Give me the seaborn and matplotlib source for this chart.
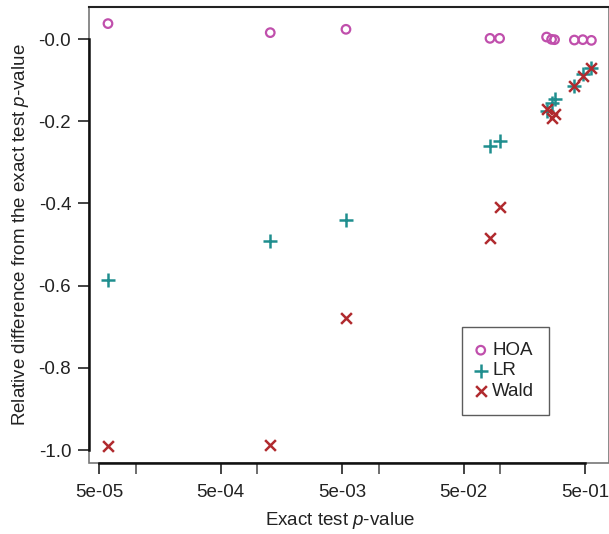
import numpy as np
import pandas as pd
import matplotlib
matplotlib.use('Agg')
import matplotlib.pyplot as plt
import matplotlib.ticker as mticker
import seaborn as sns

sns.set_style('ticks')
plt.rcParams['font.family'] = ['Liberation Sans', 'DejaVu Sans']
plt.rcParams['mathtext.fontset'] = 'custom'
plt.rcParams['mathtext.it'] = 'Liberation Sans:italic'
plt.rcParams['mathtext.rm'] = 'Liberation Sans'

# exact test p-values (shared by all three methods)
exact_p = [5.9e-05, 1.28e-03, 5.38e-03, 0.0826, 0.0991, 0.2415, 0.2655, 0.281, 0.409, 0.480, 0.565]

# relative difference from the exact test p-value
hoa = [0.0376, 0.0156, 0.0237, 0.0017, 0.0017, 0.0049, -0.0007, -0.0015, -0.0024, -0.0015, -0.0032]
lr = [-0.586, -0.492, -0.440, -0.261, -0.247, -0.175, -0.155, -0.145, -0.115, -0.086, -0.070]
wald = [-0.990, -0.988, -0.679, -0.484, -0.409, -0.170, -0.192, -0.182, -0.115, -0.090, -0.071]

methods = ['HOA', 'LR', 'Wald']
df = pd.DataFrame({
    'p': exact_p * 3,
    'diff': hoa + lr + wald,
    'method': sum([[m] * len(exact_p) for m in methods], []),
})

colors = {'HOA': '#c04fac', 'LR': '#1f8e8e', 'Wald': '#b02a2e'}
fs = 13.5

fig = plt.figure(figsize=(6.09, 5.34), dpi=100)
ax = fig.add_axes([89.3 / 609, 1 - 463 / 534, 1 - 89.3 / 609, (463 - 7) / 534])

sub = df[df.method == 'HOA']
sns.scatterplot(data=sub, x='p', y='diff', ax=ax, marker='o', s=38,
                fc='none', ec=colors['HOA'], linewidth=1.6, label='HOA')
sub = df[df.method == 'LR']
sns.scatterplot(data=sub, x='p', y='diff', ax=ax, marker='+', s=110,
                color=colors['LR'], linewidth=1.8, label='LR')
sub = df[df.method == 'Wald']
sns.scatterplot(data=sub, x='p', y='diff', ax=ax, marker='x', s=60,
                color=colors['Wald'], linewidth=1.8, label='Wald')

ax.set_xscale('log')
ax.set_xlim(10 ** -4.383, 10 ** -0.103)
ax.set_ylim(-1.0316, 0.078)

xt = [5e-05, 5e-04, 5e-03, 5e-02, 5e-01]
ax.xaxis.set_major_locator(mticker.FixedLocator(xt))
ax.xaxis.set_major_formatter(mticker.FixedFormatter(['5e-05', '5e-04', '5e-03', '5e-02', '5e-01']))
ax.xaxis.set_minor_locator(mticker.FixedLocator([1e-4, 1e-3, 1e-2, 1e-1]))
ax.xaxis.set_minor_formatter(mticker.NullFormatter())

yt = [0, -0.2, -0.4, -0.6, -0.8, -1.0]
ax.set_yticks(yt)
ax.set_yticklabels(['-0.0', '-0.2', '-0.4', '-0.6', '-0.8', '-1.0'])

ax.tick_params(axis='both', which='major', direction='out', length=8, width=1.2,
               color='#222222', labelsize=fs, labelcolor='#222222', pad=5)
ax.tick_params(axis='x', which='major', pad=7)
ax.tick_params(axis='x', which='minor', direction='out', length=8, width=1.2, color='#555555')

# R-style frame: grey box, dark axis lines over the tick range
ax.patch.set_edgecolor('#777777')
ax.patch.set_linewidth(1.2)
for side in ['left', 'bottom']:
    ax.spines[side].set_color('#111111')
    ax.spines[side].set_linewidth(1.8)
ax.spines['left'].set_bounds(-1.0, 0)
ax.spines['bottom'].set_bounds(5e-05, 5e-01)
ax.spines['top'].set_visible(True)
ax.spines['top'].set_color('#222222')
ax.spines['top'].set_linewidth(1.5)
ax.spines['right'].set_visible(False)

ax.set_xlabel('Exact test $p$-value', fontsize=fs, color='#222222')
ax.set_ylabel('Relative difference from the exact test $p$-value', fontsize=fs, color='#222222')
ax.xaxis.set_label_coords(0.482, -0.103)
ax.yaxis.set_label_coords(-0.112, 0.5)

leg = ax.legend(loc='upper left', bbox_to_anchor=(462 / 609, 1 - 327 / 534),
                bbox_transform=fig.transFigure, borderaxespad=0, fontsize=fs,
                frameon=True, fancybox=False, edgecolor='#333333',
                handletextpad=0.4, handlelength=0.4, labelspacing=0.17,
                borderpad=0.8)
leg.get_frame().set_linewidth(1.0)
for t in leg.get_texts():
    t.set_color('#222222')

fig.savefig('out.png', dpi=100)
